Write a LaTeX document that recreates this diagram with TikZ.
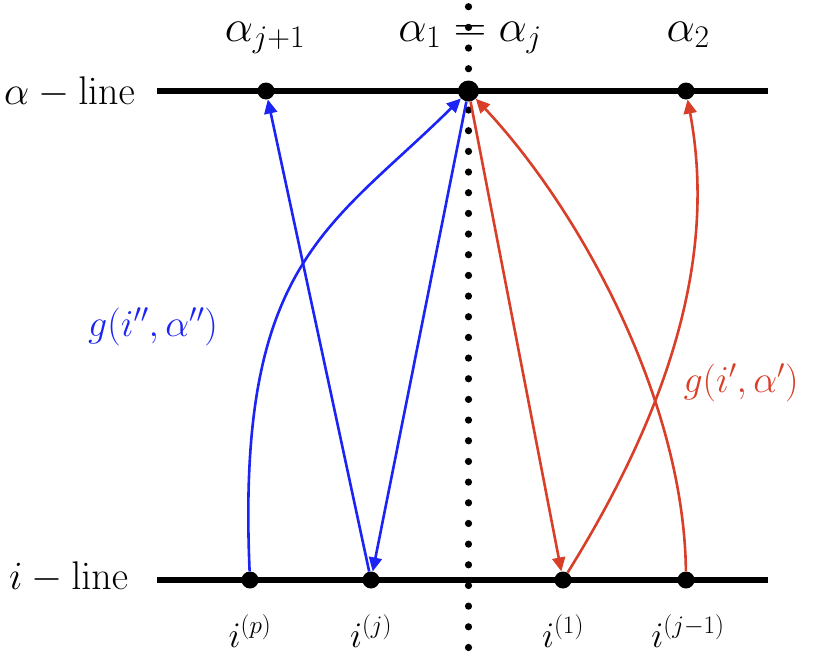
\RequirePackage{fix-cm}
\documentclass[tikz,border=0pt]{standalone}
\usetikzlibrary{arrows.meta}
\definecolor{blu}{RGB}{28,36,245}
\definecolor{redd}{RGB}{216,62,40}
\tikzset{
  dot/.style={circle,fill=black,inner sep=0pt,minimum size=17pt},
  bigdot/.style={circle,fill=black,inner sep=0pt,minimum size=21pt},
  axis/.style={line width=6.5pt},
  bluearr/.style={draw=blu,line width=2.6pt,-{Triangle[length=14pt,width=13pt]}},
  redarr/.style={draw=redd,line width=2.6pt,-{Triangle[length=14pt,width=13pt]}},
  toplab/.style={inner sep=0pt,font=\fontsize{45}{50}\selectfont},
  sidelab/.style={inner sep=0pt,font=\fontsize{40}{46}\selectfont},
  botlab/.style={inner sep=0pt,font=\fontsize{36}{42}\selectfont},
  glab/.style={inner sep=0pt,font=\fontsize{38}{44}\selectfont}
}
\begin{document}
\begin{tikzpicture}[x=1pt,y=-1pt]
\useasboundingbox (0,0) rectangle (816,664);
% lines
\coordinate (tl) at (157,91);
\coordinate (tr) at (768,91);
\coordinate (bl) at (157,580);
\coordinate (br) at (768,580);
\draw[axis] (tl) -- (tr);
\draw[axis] (bl) -- (br);
% dotted vertical
\foreach \n in {0,...,31} \fill (468.5,6.7+20.67*\n) circle (3.6pt);
% points
\node[bigdot] (a1) at (468.5,91) {};
\node[dot] (aj1) at (266,91) {};
\node[dot] (a2) at (686,91) {};
\node[dot] (ip) at (250,580) {};
\node[dot] (ij) at (371,580) {};
\node[dot] (i1) at (563,580) {};
\node[dot] (ijm) at (686,580) {};
% labels
\node[toplab,anchor=base] (laj1) at (265,41) {$\alpha_{j+1}$};
\node[toplab,anchor=base] (la1) at (470,41) {$\alpha_1 = \alpha_j$};
\node[toplab,anchor=base] (la2) at (688,41) {$\alpha_2$};
\node[sidelab,anchor=base west] (aline) at (4,104) {$\alpha-\mathrm{line}$};
\node[sidelab,anchor=base west] (iline) at (9,589) {$i-\mathrm{line}$};
\node[botlab,anchor=base] (lip) at (250,647) {$i^{(p)}$};
\node[botlab,anchor=base] (lij) at (371,647) {$i^{(j)}$};
\node[botlab,anchor=base] (li1) at (563,647) {$i^{(1)}$};
\node[botlab,anchor=base] (lijm) at (688,647) {$i^{(j-1)}$};
\node[glab,anchor=base,text=blu] (gb) at (153,336) {$g(i'',\alpha'')$};
\node[glab,anchor=base,text=redd] (gr) at (741,392) {$g(i',\alpha')$};
% blue arrows
\draw[bluearr] (ij) -- (aj1);
\draw[bluearr] (a1) -- (ij);
\draw[bluearr] (ip) .. controls (236,262) and (330,228) .. (a1);
% red arrows
\draw[redarr] (a1) -- (i1);
\draw[redarr] (i1) .. controls (690,376) and (712,230) .. (a2);
\draw[redarr] (ijm) .. controls (684,400) and (580,210) .. (a1);
\end{tikzpicture}
\end{document}
